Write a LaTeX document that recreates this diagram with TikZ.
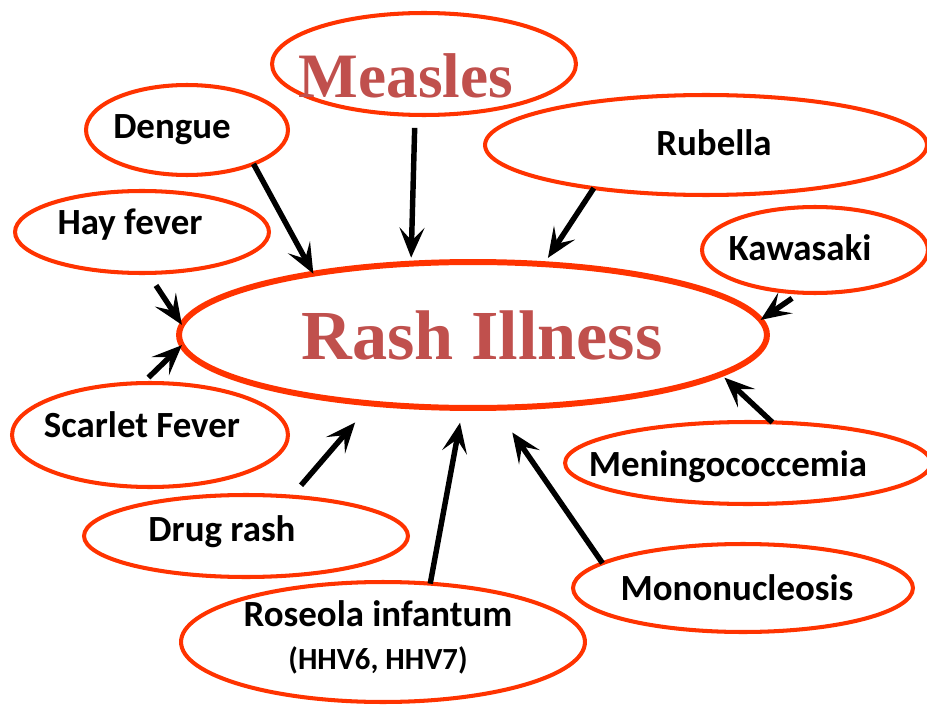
\documentclass[tikz,border=0pt]{standalone}
\usepackage{fontspec}
\setmainfont{Liberation Serif}
\setsansfont{Carlito}
\usetikzlibrary{arrows.meta,shapes.geometric}
\definecolor{ringred}{HTML}{FF3300}
\definecolor{titlered}{HTML}{C0504D}

\tikzset{
  bubble/.style={draw=ringred,ellipse,line width=2.3pt,inner sep=0pt,outer sep=0pt},
  word/.style={font=\sffamily\bfseries\fontsize{21}{24.5}\selectfont,text=black},
  big/.style={font=\rmfamily\bfseries\fontsize{36}{40}\selectfont,text=titlered},
  feed/.style={-{Stealth[length=0.6cm,width=0.5cm,inset=0.26cm]},line width=3.1pt,black},
}

\begin{document}
\begin{tikzpicture}[x=0.02cm,y=-0.02cm]
\useasboundingbox (0,0) rectangle (927,706);
% centre
\node[bubble,line width=3.4pt,minimum width=11.76cm,minimum height=2.92cm,
      label={[big,font=\rmfamily\bfseries\fontsize{40}{44}\selectfont,shift={(9,0)}]center:Rash Illness}] (rash) at (473,335) {};
% causes
\node[bubble,minimum width=6.08cm,minimum height=2.04cm,
      label={[big,shift={(-18,12)}]center:Measles}] (measles) at (424,64) {};
\node[bubble,minimum width=4.04cm,minimum height=1.8cm,
      label={[word,shift={(-15,0)}]center:Dengue}] (dengue) at (187,130) {};
\node[bubble,minimum width=5.08cm,minimum height=1.64cm,
      label={[word,shift={(-12,-7)}]center:Hay fever}] (hay) at (142,232) {};
\node[bubble,minimum width=5.52cm,minimum height=2.08cm,
      label={[word,shift={(-8,-10)}]center:Scarlet Fever}] (scarlet) at (150,435) {};
\node[bubble,minimum width=6.48cm,minimum height=1.64cm,
      label={[word,shift={(-24,-4)}]center:Drug rash}] (drug) at (246,536) {};
\node[bubble,minimum width=8.08cm,minimum height=2.4cm,
      label={[word,align=center,shift={(-5,-5)}]center:Roseola infantum\\{\fontsize{17.5}{20}\selectfont (HHV6, HHV7)}}] (roseola) at (383,642) {};
\node[bubble,minimum width=6.8cm,minimum height=1.76cm,
      label={[word,shift={(-6,0)}]center:Mononucleosis}] (mono) at (743,588) {};
\node[bubble,minimum width=7.32cm,minimum height=1.64cm,
      label={[word,shift={(-20,4)}]center:Meningococcemia}] (meningo) at (748,463) {};
\node[bubble,minimum width=4.52cm,minimum height=1.72cm,
      label={[word,shift={(-15,-2)}]center:Kawasaki}] (kawasaki) at (815,250) {};
\node[bubble,minimum width=8.84cm,minimum height=2.0cm,
      label={[word,shift={(8,-2)}]center:Rubella}] (rubella) at (706,145) {};
% arrows
\draw[feed] (dengue.-27) -- (rash.159);
\draw[feed,shorten <=0.26cm,shorten >=0.12cm] (measles.260) -- (rash.131);
\draw[feed,shorten >=0.15cm] (rubella.-159) -- (rash.45);
\draw[feed,shorten <=0.2cm] (kawasaki.-109) -- (rash.3);
\draw[feed,shorten >=0.1cm] (meningo.59) -- (rash.-9);
\draw[feed,shorten >=0.6cm] (mono.170) -- (rash.-73);
\draw[feed,shorten >=0.3cm] (roseola.51) -- (rash.-98);
\draw[feed,shorten <=0.3cm,shorten >=0.5cm] (drug.41) -- (rash.214);
\draw[feed,shorten <=0.16cm] (scarlet.98) -- (rash.182);
\draw[feed,shorten <=0.3cm] (hay.-82) -- (rash.178);
\end{tikzpicture}
\end{document}
